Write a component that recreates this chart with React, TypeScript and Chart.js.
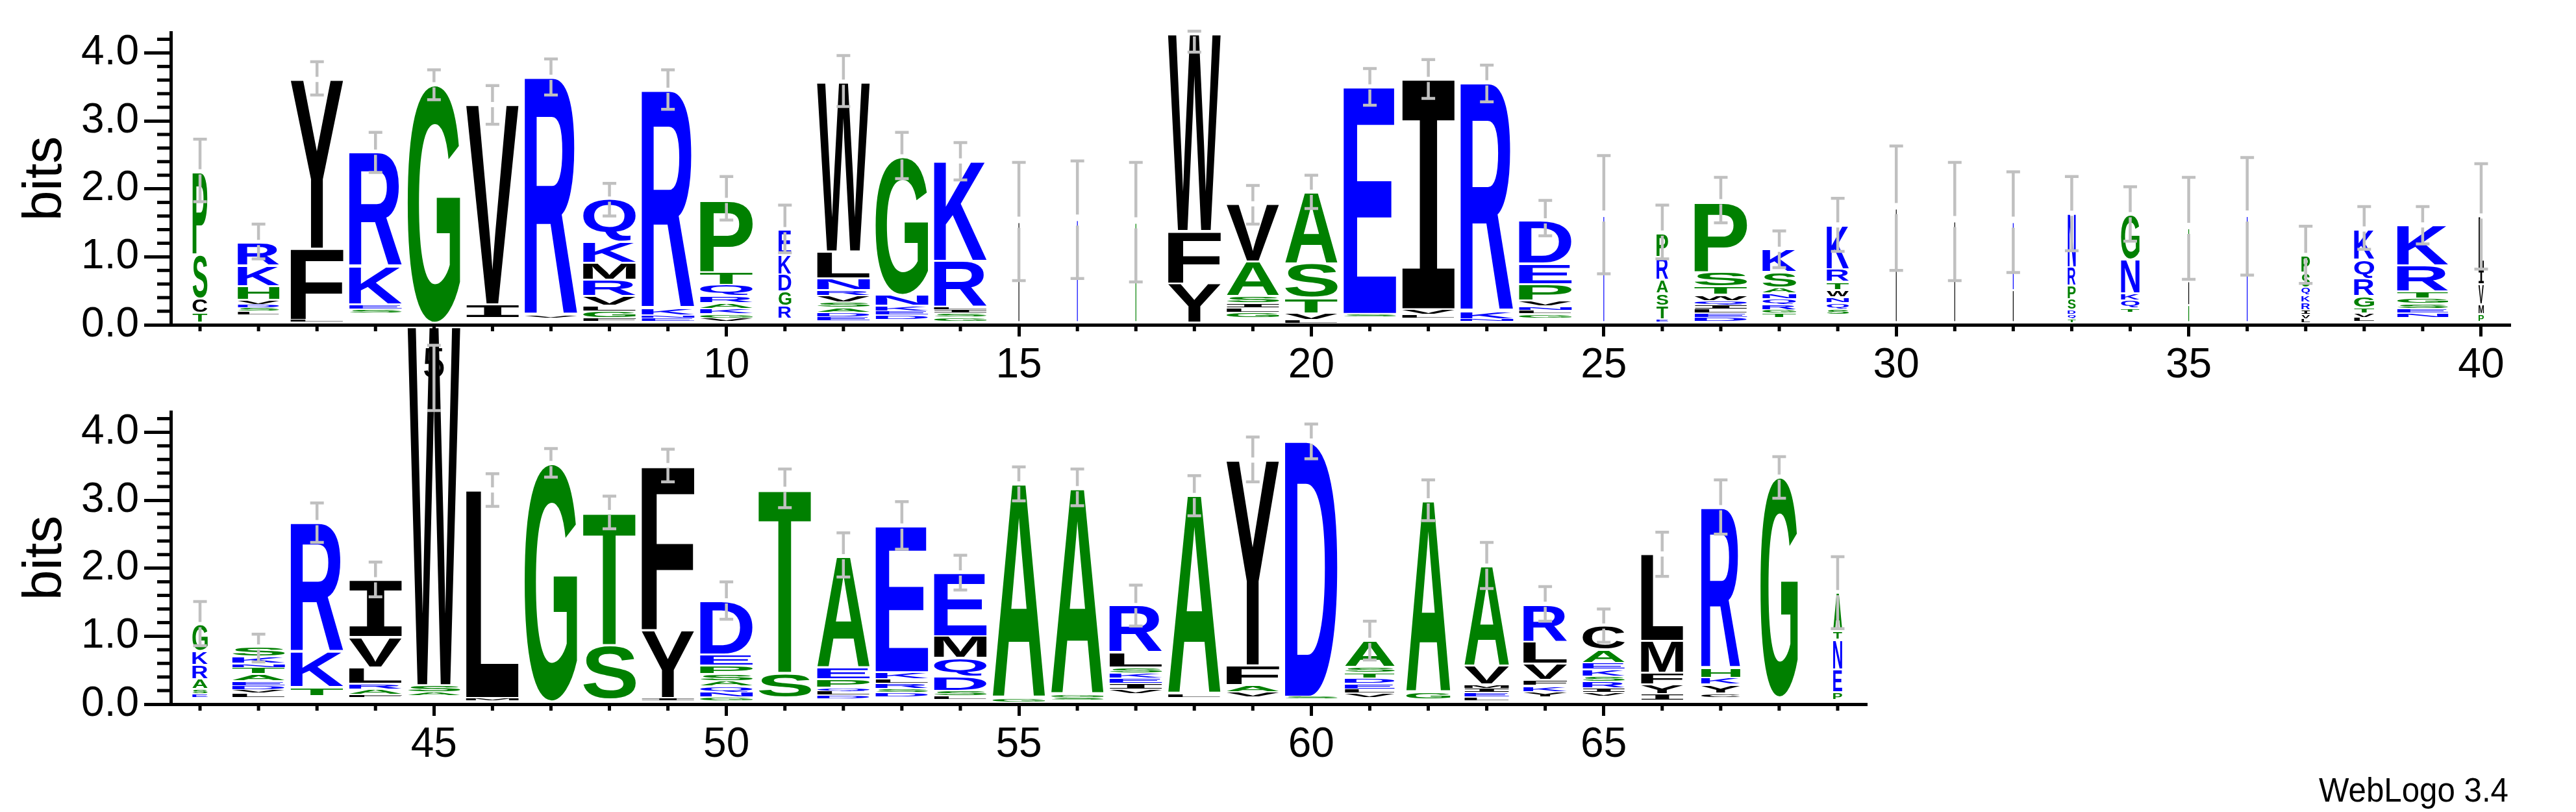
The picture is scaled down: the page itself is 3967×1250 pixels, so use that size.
import React, { useEffect, useRef } from 'react';
import { Chart, registerables } from 'chart.js';

Chart.register(...registerables);

type Stack = Array<[string, number]>;

// ---------------- DATA ----------------
// Each stack lists letters bottom -> top with their height in bits (' ' = residual of unreadably small letters)
const topPositions = [1, 2, 3, 4, 5, 6, 7, 8, 9, 10, 11, 12, 13, 14, 15, 16, 17, 18, 19, 20, 21, 22, 23, 24, 25, 26, 27, 28, 29, 30, 31, 32, 33, 34, 35, 36, 37, 38, 39, 40];

const topStacks: Stack[] = [
  [[' ', .03], ['T', .14], ['C', .22], ['S', .65], ['P', 1.21]],
  [[' ', .15], ['L', .05], ['S', .05], ['D', .05], ['V', .07], ['H', .2], ['K', .3], ['R', .34]],
  [[' ', .04], ['L', .03], ['F', 1.05], ['Y', 2.49]],
  [[' ', .17], ['S', .06], ['E', .07], ['K', .56], ['R', 1.68]],
  [[' ', .03], ['G', 3.5]],
  [[' ', .1], ['I', .2], ['V', 2.94]],
  [[' ', .1], ['V', .04], ['R', 3.5]],
  [[' ', .05], ['F', .05], ['G', .1], ['L', .08], ['V', .14], ['R', .24], ['M', .25], ['K', .31], ['Q', .63]],
  [[' ', .05], ['E', .05], ['N', .04], ['K', .1], ['R', 3.21]],
  [[' ', .05], ['V', .05], ['G', .06], ['K', .08], ['A', .08], ['R', .1], ['Q', .17], ['T', .19], ['P', 1.05]],
  [[' ', .085], ['R', .19], ['G', .215], ['D', .255], ['K', .28], ['E', .375]],
  [[' ', .06], ['E', .06], ['D', .06], ['A', .07], ['S', .08], ['V', .1], ['R', .08], ['N', .17], ['L', .4], ['W', 2.49]],
  [[' ', .08], ['D', .06], ['E', .06], ['K', .08], ['N', .16], ['G', 2.03]],
  [[' ', .05], ['G', .06], ['S', .06], ['I', .05], ['L', .04], ['R', .68], ['K', 1.47]],
  [[' ', .04], ['L', 1.47]],
  [[' ', .04], ['K', 1.5]],
  [[' ', .04], ['G', 1.46]],
  [[' ', .03], ['Y', .58], ['F', .77], ['W', 2.9]],
  [[' ', .1], ['G', .08], ['L', .07], ['I', .07], ['S', .1], ['A', .51], ['V', .85]],
  [[' ', .02], ['L', .05], ['V', .1], ['T', .23], ['S', .5], ['A', 1.05]],
  [[' ', .12], ['S', .04], ['E', 3.34]],
  [[' ', .1], ['L', .05], ['V', .08], ['I', 3.38]],
  [[' ', .05], ['N', .03], ['K', .12], ['R', 3.36]],
  [[' ', .1], ['G', .06], ['L', .05], ['N', .06], ['V', .09], ['P', .24], ['E', .3], ['D', .63]],
  [[' ', .04], ['E', 1.56]],
  [[' ', .04], ['E', .04], ['T', .2], ['S', .18], ['A', .2], ['R', .34], ['P', .35]],
  [[' ', .05], ['D', .06], ['E', .06], ['L', .06], ['I', .06], ['Q', .06], ['W', .09], ['T', .13], ['S', .21], ['P', 1.03]],
  [[' ', .1], ['T', .07], ['G', .05], ['R', .08], ['Q', .08], ['N', .09], ['A', .08], ['S', .23], ['K', .33]],
  [[' ', .15], ['S', .08], ['Q', .09], ['N', .09], ['W', .1], ['T', .12], ['R', .19], ['K', .65]],
  [[' ', .04], ['L', 1.67]],
  [[' ', .04], ['L', 1.48]],
  [[' ', .04], ['L', .47], ['K', 1.0]],
  [[' ', .03], ['T', .05], ['Q', .07], ['D', .07], ['S', .16], ['P', .2], ['R', .27], ['N', .79]],
  [[' ', .18], ['T', .06], ['Q', .12], ['K', .1], ['N', .5], ['G', .66]],
  [[' ', .04], ['S', .25], ['L', .35], ['A', .78]],
  [[' ', .04], ['K', 1.56]],
  [[' ', .03], ['L', .06], ['V', .06], ['I', .06], ['R', .12], ['K', .1], ['Q', .12], ['S', .22], ['P', .25]],
  [[' ', .05], ['L', .06], ['V', .06], ['T', .08], ['G', .17], ['R', .26], ['Q', .28], ['K', .45]],
  [[' ', .1], ['N', .07], ['E', .07], ['S', .07], ['G', .08], ['T', .1], ['R', .38], ['K', .6]],
  [[' ', .04], ['P', .12], ['M', .14], ['V', .3], ['I', .21], ['L', .79]],
];

// fraction of full column width (occupancy)
const topWidths = [
  .28, .79, 1, 1, 1, 1, 1, 1, 1, 1,
  .24, 1, 1, 1, .013, .013, .013, 1, 1, 1,
  1, 1, 1, 1, .013, .22, 1, .64, .42, .013,
  .013, .013, .15, .35, .013, .013, .16, .38, .97, .1,
];

const topErrHi = [
  2.73, 1.48, 3.87, 2.83, 3.75, 3.52, 3.91, 2.08, 3.75, 2.18,
  1.76, 3.96, 2.83, 2.68, 2.39, 2.41, 2.39, 4.32, 2.05, 2.20,
  3.77, 3.90, 3.82, 1.83, 2.49, 1.76, 2.17, 1.38, 1.86, 2.63,
  2.39, 2.25, 2.18, 2.03, 2.17, 2.46, 1.45, 1.74, 1.74, 2.37,
];
const topErrLo = [
  1.81, 0.97, 3.38, 2.24, 3.31, 2.95, 3.38, 1.60, 3.17, 1.54,
  1.06, 3.21, 2.15, 2.13, 0.65, 0.68, 0.63, 4.01, 1.48, 1.71,
  3.23, 3.33, 3.28, 1.31, 0.75, 0.97, 1.50, 0.84, 1.08, 0.80,
  0.65, 0.77, 1.09, 1.23, 0.67, 0.73, 0.61, 1.11, 1.19, 0.82,
];

const bottomPositions = [41, 42, 43, 44, 45, 46, 47, 48, 49, 50, 51, 52, 53, 54, 55, 56, 57, 58, 59, 60, 61, 62, 63, 64, 65, 66, 67, 68, 69];

const bottomStacks: Stack[] = [
  [[' ', .1], ['E', .05], ['S', .07], ['A', .15], ['R', .21], ['K', .2], ['G', .39]],
  [[' ', .1], ['L', .06], ['V', .05], ['D', .06], ['E', .07], ['A', .1], ['T', .1], ['N', .06], ['K', .1], ['S', .14]],
  [[' ', .12], ['T', .13], ['K', .52], ['R', 1.9]],
  [[' ', .1], ['F', .04], ['A', .08], ['R', .08], ['L', .24], ['V', .45], ['I', .84]],
  [[' ', .12], ['A', .06], ['S', .1], ['W', 5.28]],
  [[' ', .05], ['M', .04], ['L', 3.06]],
  [[' ', .04], ['G', 3.5]],
  [[' ', .07], ['S', .8], ['T', 1.95]],
  [[' ', .05], ['I', .04], ['Y', 1.0], ['F', 2.42]],
  [[' ', .05], ['G', .05], ['N', .08], ['Q', .08], ['A', .08], ['S', .1], ['P', .13], ['E', .16], ['D', .79]],
  [[' ', .1], ['S', .36], ['T', 2.7]],
  [[' ', .08], ['D', .05], ['L', .06], ['Q', .05], ['P', .13], ['E', .17], ['A', 1.63]],
  [[' ', .1], ['D', .07], ['S', .06], ['R', .08], ['L', .06], ['K', .1], ['E', 2.15]],
  [[' ', .07], ['L', .05], ['S', .08], ['D', .21], ['Q', .27], ['M', .32], ['E', .93]],
  [[' ', .03], ['G', .06], ['A', 3.15]],
  [[' ', .06], ['S', .04], ['G', .04], ['A', 3.03]],
  [[' ', .15], ['V', .07], ['I', .08], ['E', .08], ['K', .08], ['S', .08], ['L', .22], ['R', .69]],
  [[' ', .1], ['L', .05], ['A', 2.92]],
  [[' ', .1], ['V', .08], ['A', .1], ['F', .29], ['Y', 3.02]],
  [[' ', .08], ['S', .03], ['D', 3.76]],
  [[' ', .1], ['V', .06], ['L', .06], ['E', .08], ['D', .08], ['T', .08], ['S', .09], ['A', .39]],
  [[' ', .07], ['G', .1], ['A', 2.82]],
  [[' ', .05], ['L', .05], ['E', .07], ['I', .06], ['M', .06], ['V', .27], ['A', 1.47]],
  [[' ', .1], ['Y', .08], ['K', .09], ['F', .09], ['V', .24], ['L', .32], ['R', .55]],
  [[' ', .12], ['V', .05], ['I', .06], ['R', .1], ['S', .08], ['K', .1], ['E', .1], ['A', .19], ['C', .35]],
  [[' ', .05], ['I', .1], ['Y', .14], ['F', .17], ['M', .47], ['L', 1.28]],
  [[' ', .1], ['C', .06], ['Y', .13], ['K', .1], ['H', .14], ['R', 2.36]],
  [[' ', .1], ['G', 3.24]],
  [[' ', .06], ['P', .12], ['E', .33], ['N', .44], ['T', .13], ['A', .56]],
];

const bottomWidths = [
  .29, 1, 1, 1, 1, 1, 1, 1, 1, 1,
  1, 1, 1, 1, 1, 1, 1, 1, 1, 1,
  .95, .84, .85, .83, .8, .8, .74, .71, .17,
];

const bottomErrHi = [
  1.51, 1.03, 2.96, 2.09, 5.28, 3.39, 3.76, 3.06, 3.75, 1.80,
  3.46, 2.52, 2.98, 2.19, 3.49, 3.46, 1.75, 3.36, 3.93, 4.12,
  1.22, 3.30, 2.38, 1.73, 1.40, 2.53, 3.30, 3.64, 2.17,
];
const bottomErrLo = [
  0.86, 0.62, 2.38, 1.58, 4.32, 2.91, 3.34, 2.58, 3.27, 1.25,
  2.89, 1.87, 2.28, 1.68, 2.99, 2.92, 1.15, 2.77, 3.27, 3.61,
  0.65, 2.70, 1.70, 1.22, 0.91, 1.88, 2.50, 3.03, 1.11,
];

const yMajorTicks = [0, 1, 2, 3, 4];
const yMinorPerMajor = 5; // minor tick every 0.2 bits
const yMaxBits = 4.3;
const xLabelEvery = 5;
const yTitle = 'bits';
const creditText = 'WebLogo 3.4';

// ---------------- STYLE ----------------
const W = 3967;
const H = 1250;
const BLUE = '#0000ff';
const GREEN = '#008000';
const BLACK = '#000000';
const ERR = '#c0c0c0';
const hydrophilic = 'RKDENQ';
const neutral = 'SGHTAP';
const LABEL_FONT = '"Liberation Sans", Arial, sans-serif';

function letterColor(ch: string) {
  if (hydrophilic.includes(ch)) return BLUE;
  if (neutral.includes(ch)) return GREEN;
  return BLACK;
}

const boxCache: Record<string, { l: number; r: number; a: number; d: number }> = {};

function glyphFont(ch: string) {
  return ch === 'I' ? 'bold 200px "DejaVu Sans Mono", monospace' : 'bold 200px "Liberation Sans", Arial, sans-serif';
}

function glyphBox(ctx: CanvasRenderingContext2D, ch: string) {
  if (!boxCache[ch]) {
    ctx.save();
    ctx.font = glyphFont(ch);
    ctx.textAlign = 'left';
    ctx.textBaseline = 'alphabetic';
    const m = ctx.measureText(ch);
    ctx.restore();
    boxCache[ch] = {
      l: m.actualBoundingBoxLeft,
      r: m.actualBoundingBoxRight,
      a: m.actualBoundingBoxAscent,
      d: m.actualBoundingBoxDescent,
    };
  }
  return boxCache[ch];
}

function drawGlyph(ctx: CanvasRenderingContext2D, ch: string, cx: number, w: number, yBottom: number, yTop: number) {
  const full = yBottom - yTop;
  const pad = Math.min(1.5, full * 0.15);
  const yb = yBottom - pad;
  const yt = yTop + pad;
  const h = yb - yt;
  if (h < 0.4) return;
  ctx.fillStyle = letterColor(ch);
  if (w < 3) {
    ctx.fillRect(cx - Math.max(w, 1.2) / 2, yt, Math.max(w, 1.2), h);
    return;
  }
  const b = glyphBox(ctx, ch);
  const bw = b.l + b.r;
  const bh = b.a + b.d;
  ctx.save();
  ctx.font = glyphFont(ch);
  ctx.textAlign = 'left';
  ctx.textBaseline = 'alphabetic';
  ctx.translate(cx - w / 2, yb);
  ctx.scale(w / bw, h / bh);
  ctx.fillText(ch, b.l, -b.d);
  ctx.restore();
}

interface Panel {
  id: string;
  positions: number[];
  stacks: Stack[];
  widths: number[];
  errHi: number[];
  errLo: number[];
  padding: { left: number; top: number; right: number; bottom: number };
  axisHeight: number;
  credit: boolean;
}

const yTickValues: number[] = [];
for (let k = 0; k <= Math.floor(yMaxBits * yMinorPerMajor + 1e-9); k++) yTickValues.push(k / yMinorPerMajor);
const isMajorY = (v: number) => yMajorTicks.some((m) => Math.abs(m - v) < 1e-6);

function makePlugin(p: Panel) {
  return {
    id: 'logo_' + p.id,
    afterDatasetsDraw(chart: any) {
      const { ctx, scales } = chart;
      const x = scales.x;
      const y = scales.y;
      const unit = x.getPixelForValue(1) - x.getPixelForValue(0);
      ctx.save();
      p.positions.forEach((pos, i) => {
        const cx = x.getPixelForValue(pos);
        const w = unit * 0.9 * p.widths[i];
        let acc = 0;
        for (const [ch, v] of p.stacks[i]) {
          const yb = y.getPixelForValue(acc);
          const yt = y.getPixelForValue(acc + v);
          acc += v;
          if (ch === ' ') continue;
          drawGlyph(ctx, ch, cx, w, yb, yt);
        }
        // error bar
        const yHi = y.getPixelForValue(p.errHi[i]);
        const yLo = y.getPixelForValue(p.errLo[i]);
        const yTop = y.getPixelForValue(acc);
        const gap = p.widths[i] < 0.1 ? 8.5 : 4;
        ctx.strokeStyle = ERR;
        ctx.lineWidth = 4.5;
        ctx.lineCap = 'butt';
        ctx.beginPath();
        if (yTop > yHi + gap && yTop < yLo - gap) {
          ctx.moveTo(cx, yHi);
          ctx.lineTo(cx, yTop - gap);
          ctx.moveTo(cx, yTop + gap);
          ctx.lineTo(cx, yLo);
        } else {
          ctx.moveTo(cx, yHi);
          ctx.lineTo(cx, yLo);
        }
        ctx.moveTo(cx - 10.5, yHi);
        ctx.lineTo(cx + 10.5, yHi);
        ctx.moveTo(cx - 10.5, yLo);
        ctx.lineTo(cx + 10.5, yLo);
        ctx.stroke();
      });
      ctx.restore();
    },
    afterDraw(chart: any) {
      const { ctx, scales, chartArea } = chart;
      const x = scales.x;
      const y = scales.y;
      ctx.save();
      ctx.fillStyle = BLACK;
      // minor y ticks
      yTickValues.forEach((v) => {
        if (isMajorY(v)) return;
        const py = y.getPixelForValue(v);
        ctx.fillRect(chartArea.left - 21, py - 2.5, 21, 5);
      });
      // minor x ticks
      p.positions.forEach((pos) => {
        if (pos % xLabelEvery === 0) return;
        const px = x.getPixelForValue(pos);
        ctx.fillRect(px - 2.5, chartArea.bottom, 5, 10);
      });
      if (p.credit) {
        ctx.font = '51px ' + LABEL_FONT;
        const tw = ctx.measureText(creditText).width;
        ctx.translate(chart.width - 104, chart.height - 16);
        ctx.scale(292 / tw, 1);
        ctx.textAlign = 'right';
        ctx.textBaseline = 'alphabetic';
        ctx.fillText(creditText, 0, 0);
      }
      ctx.restore();
    },
  };
}

function makeConfig(p: Panel): any {
  const first = p.positions[0];
  const last = p.positions[p.positions.length - 1];
  return {
    type: 'scatter',
    data: { datasets: [{ data: [] }] },
    plugins: [makePlugin(p)],
    options: {
      animation: false,
      responsive: false,
      maintainAspectRatio: false,
      devicePixelRatio: 1,
      events: [],
      layout: { padding: p.padding },
      plugins: { legend: { display: false }, tooltip: { enabled: false }, title: { display: false } },
      scales: {
        x: {
          type: 'linear',
          min: first - 0.5,
          max: last + 0.5,
          afterBuildTicks: (scale: any) => {
            scale.ticks = p.positions.map((v) => ({ value: v }));
          },
          afterFit: (scale: any) => {
            scale.height = p.axisHeight;
          },
          border: { display: true, width: 5, color: BLACK },
          grid: {
            display: true,
            drawOnChartArea: false,
            drawTicks: true,
            tickLength: 18,
            tickWidth: 5,
            tickColor: (c: any) => (c.tick && c.tick.value % xLabelEvery === 0 ? BLACK : 'rgba(0,0,0,0)'),
          },
          ticks: {
            autoSkip: false,
            maxRotation: 0,
            minRotation: 0,
            padding: 7,
            color: BLACK,
            font: { family: LABEL_FONT, size: 64 },
            callback: (v: any) => (Number(v) % xLabelEvery === 0 ? String(v) : ''),
          },
        },
        y: {
          type: 'linear',
          min: 0,
          max: yMaxBits,
          afterBuildTicks: (scale: any) => {
            scale.ticks = yTickValues.map((v) => ({ value: v }));
          },
          afterFit: (scale: any) => {
            scale.width = 263;
          },
          border: { display: true, width: 5, color: BLACK },
          grid: {
            display: true,
            drawOnChartArea: false,
            drawTicks: true,
            tickLength: 41,
            tickWidth: 5,
            tickColor: (c: any) => (c.tick && isMajorY(c.tick.value) ? BLACK : 'rgba(0,0,0,0)'),
          },
          ticks: {
            autoSkip: false,
            padding: 8,
            color: BLACK,
            font: { family: LABEL_FONT, size: 64 },
            callback: (v: any) => (isMajorY(Number(v)) ? Number(v).toFixed(1) : ''),
          },
          title: {
            display: true,
            text: yTitle,
            color: BLACK,
            font: { family: LABEL_FONT, size: 84 },
            padding: { top: 20, bottom: 0 },
          },
        },
      },
    },
  };
}

const topPanel: Panel = {
  id: 'top',
  positions: topPositions,
  stacks: topStacks,
  widths: topWidths,
  errHi: topErrHi,
  errLo: topErrLo,
  padding: { left: 0, top: 50, right: 101, bottom: 0 },
  axisHeight: 750,
  credit: false,
};

const bottomPanel: Panel = {
  id: 'bottom',
  positions: bottomPositions,
  stacks: bottomStacks,
  widths: bottomWidths,
  errHi: bottomErrHi,
  errLo: bottomErrLo,
  padding: { left: 0, top: 634, right: 1092, bottom: 0 },
  axisHeight: 166,
  credit: true,
};

function LogoCanvas({ panel, z }: { panel: Panel; z: number }) {
  const ref = useRef<HTMLCanvasElement | null>(null);
  useEffect(() => {
    if (!ref.current) return;
    const chart = new Chart(ref.current, makeConfig(panel));
    return () => chart.destroy();
  }, [panel]);
  return (
    <canvas
      ref={ref}
      width={W}
      height={H}
      style={{ position: 'absolute', left: 0, top: 0, width: W, height: H, zIndex: z, display: 'block' }}
    />
  );
}

export default function App() {
  return (
    <div style={{ position: 'fixed', left: 0, top: 0, width: W, height: H, background: '#ffffff', overflow: 'hidden' }}>
      <LogoCanvas panel={topPanel} z={1} />
      <LogoCanvas panel={bottomPanel} z={2} />
    </div>
  );
}
